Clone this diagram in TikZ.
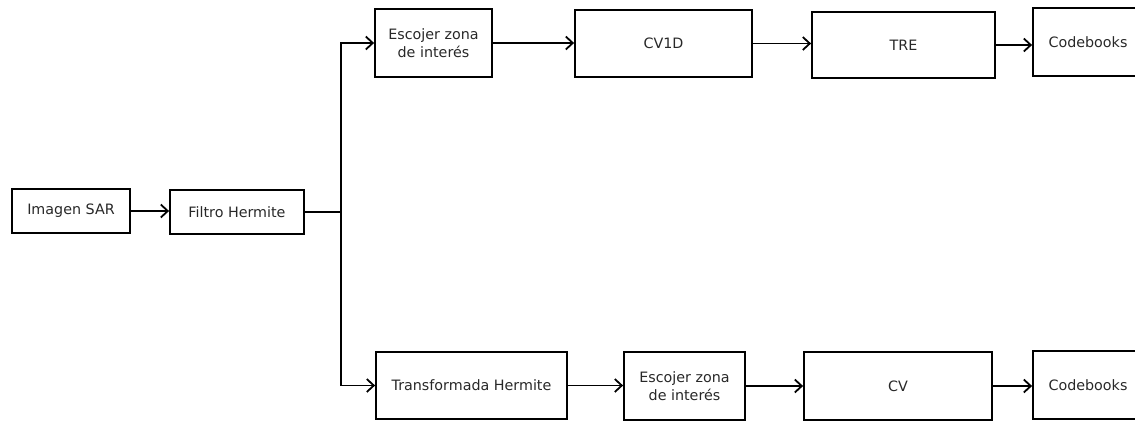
\documentclass[tikz,border=0pt]{standalone}
\usepackage{fontspec}
\setmainfont{DejaVu Sans}
\definecolor{blktext}{RGB}{40,40,40}
\usetikzlibrary{arrows.meta,positioning}

\begin{document}
\begin{tikzpicture}[x=1pt,y=-1pt,
  sarblock/.style={draw,line width=1.8pt,align=center,inner sep=0pt,
    font=\fontsize{14.3}{18.5}\selectfont,text=blktext},
  sararr/.style={-{Straight Barb[length=7pt,width=13pt]},line width=1.8pt}
]
  \useasboundingbox (0,0) rectangle (1135,421);
  % Input chain
  \node[sarblock,minimum width=118pt,minimum height=44pt] (img) at (71,211) {Imagen SAR};
  \node[sarblock,minimum width=134pt,minimum height=44pt] (fil) at (237,212) {Filtro Hermite};
  \coordinate (split) at (341,212);
  % Upper branch
  \node[sarblock,minimum width=117pt,minimum height=68pt] (escA) at (433.5,43) {Escojer zona\\de interés};
  \node[sarblock,minimum width=177pt,minimum height=67pt] (cvod) at (663.5,43.5) {CV1D};
  \node[sarblock,minimum width=183pt,minimum height=66pt] (tre) at (903.5,45) {TRE};
  \node[sarblock,minimum width=110pt,minimum height=68pt] (cbA) at (1088,42) {Codebooks};
  % Lower branch
  \node[sarblock,minimum width=191pt,minimum height=67pt] (trh) at (471.5,385.5) {Transformada Hermite};
  \node[sarblock,minimum width=121pt,minimum height=68pt] (escB) at (684.5,386) {Escojer zona\\de interés};
  \node[sarblock,minimum width=188pt,minimum height=68pt] (cv) at (898,386) {CV};
  \node[sarblock,minimum width=110pt,minimum height=68pt] (cbB) at (1088,385) {Codebooks};
  % Connectors
  \draw[sararr] (img.east) -- (img.east -| fil.west);
  \draw[line width=1.8pt] (fil.east) -- (split);
  \draw[sararr] (split) |- (escA.west);
  \draw[sararr] (split) |- (trh.west);
  \draw[sararr] (escA.east) -- (escA.east -| cvod.west);
  \draw[sararr] (cvod.east) -- (cvod.east -| tre.west);
  \draw[sararr] (tre.east) -- (tre.east -| cbA.west);
  \draw[sararr] (trh.east) -- (trh.east -| escB.west);
  \draw[sararr] (escB.east) -- (escB.east -| cv.west);
  \draw[sararr] (cv.east) -- (cv.east -| cbB.west);
\end{tikzpicture}
\end{document}
